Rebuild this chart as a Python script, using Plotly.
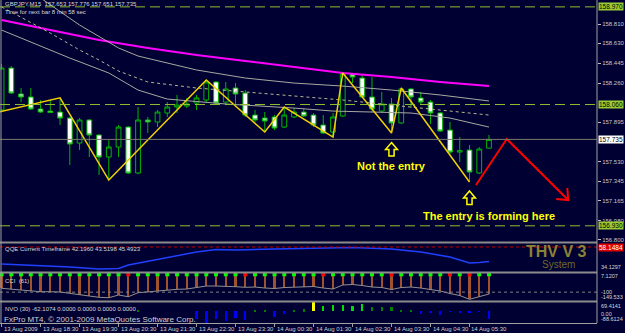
import plotly.graph_objects as go

# ---------------- canvas ----------------
W, H = 625, 333
ML, MR, MT, MB = 0, 23, 0, 10
PW, PH = W - ML - MR, H - MT - MB
BG = '#000033'
FONT = 'Liberation Sans'

def fx(px):
    return (px - ML) / PW

def fy(py):
    return 1 - (py - MT) / PH

# ---------------- data ----------------
bars = list(range(51))
opens = [158.009, 158.400, 158.158, 158.130, 158.018, 157.999, 157.990, 157.934, 157.701, 157.916,
         157.776, 157.571, 157.664, 157.850, 157.422, 157.916, 157.897, 157.981, 158.037, 158.046,
         158.074, 158.102, 158.270, 158.083, 158.214, 158.167, 157.962, 157.934, 157.944, 157.850,
         157.944, 157.990, 157.962, 157.869, 157.804, 157.953, 158.344, 158.307, 158.130, 157.999,
         158.065, 157.888, 158.205, 158.121, 158.083, 157.981, 157.822, 157.617, 157.636, 157.422,
         157.653]
highs = [158.438, 158.419, 158.214, 158.214, 158.102, 158.102, 158.123, 157.944, 157.934, 157.925,
         157.785, 157.729, 157.869, 157.860, 158.037, 157.944, 158.009, 158.083, 158.149, 158.121,
         158.149, 158.288, 158.279, 158.270, 158.260, 158.195, 158.009, 157.990, 157.962, 158.037,
         158.027, 158.018, 157.981, 157.962, 157.981, 158.354, 158.354, 158.335, 158.316, 158.177,
         158.121, 158.214, 158.214, 158.177, 158.102, 157.990, 157.897, 157.757, 157.683, 157.664,
         157.776]
lows = [157.990, 158.158, 158.083, 158.009, 157.981, 157.981, 157.869, 157.496, 157.636, 157.571,
        157.403, 157.356, 157.571, 157.412, 157.412, 157.794, 157.850, 157.944, 157.981, 158.027,
        158.009, 158.074, 158.065, 158.055, 158.055, 157.944, 157.897, 157.804, 157.822, 157.841,
        157.934, 157.944, 157.850, 157.785, 157.757, 157.944, 158.260, 158.121, 157.990, 157.990,
        157.794, 157.878, 158.027, 158.055, 157.878, 157.804, 157.599, 157.524, 157.338, 157.412,
        157.651]
closes = [158.400, 158.167, 158.130, 158.018, 157.990, 157.985, 157.934, 157.692, 157.916, 157.776,
          157.571, 157.664, 157.850, 157.422, 157.916, 157.897, 157.990, 158.037, 158.055, 158.065,
          158.121, 158.270, 158.074, 158.205, 158.158, 157.962, 157.916, 157.906, 157.841, 157.962,
          157.990, 157.953, 157.869, 157.794, 157.944, 158.349, 158.316, 158.130, 158.018, 158.065,
          157.888, 158.205, 158.130, 158.083, 157.981, 157.813, 157.617, 157.631, 157.431, 157.645,
          157.735]

# moving-average style envelope lines (bar index, price)
ma_mag_x = [0, 5, 10, 15, 20, 25, 30, 35, 40, 45, 50]
ma_mag_y = [158.848, 158.754, 158.661, 158.587, 158.521, 158.466, 158.410, 158.354, 158.316, 158.270, 158.232]
ma_up_x = [2, 4, 8, 12, 14, 20, 25, 30, 35, 40, 45, 50]
ma_up_y = [159.220, 159.053, 158.801, 158.587, 158.512, 158.382, 158.307, 158.260, 158.232, 158.195, 158.149, 158.093]
ma_dot_x = [0, 1, 5, 8, 10, 12, 15, 20, 25, 30, 35, 40, 45, 50]
ma_dot_y = [158.969, 158.922, 158.726, 158.568, 158.475, 158.372, 158.270, 158.214, 158.177, 158.139, 158.102, 158.055, 158.009, 157.962]
ma_lo_x = [0, 5, 7, 11, 14, 17, 23, 30, 34, 42, 46, 50]
ma_lo_y = [158.754, 158.568, 158.493, 158.354, 158.195, 158.111, 158.065, 158.027, 157.999, 157.981, 157.934, 157.850]

# zigzag vertices
zz_x = [-2, 6, 11, 21, 27, 29, 34, 35, 40, 41, 48]
zz_y = [157.955, 158.123, 157.356, 158.288, 157.804, 158.037, 157.757, 158.354, 157.794, 158.214, 157.338]

# hand drawn projection (red)
proj_x = [48.67, 51.82, 58.13]
proj_y = [157.310, 157.739, 157.170]
proj_head_x = [56.9, 58.13, 58.03]
proj_head_y = [157.179, 157.170, 157.282]

# horizontal lines
hlines = [158.970, 158.060, 156.930]
bid = 157.735

price_ticks = [158.810, 158.630, 158.445, 158.260, 157.895, 157.530, 157.345, 157.165, 156.980, 156.800]

# QQE
qqe_x = [0, 3, 7, 10, 12, 13, 17, 20, 22, 24, 28, 32, 36, 40, 43, 46, 48, 49, 50]
qqe_y = [39.59, 38.49, 36.31, 34.13, 34.67, 38.49, 46.14, 52.69, 55.42, 54.87, 55.97, 57.06, 57.60,
         55.97, 52.69, 47.23, 40.68, 41.20, 42.196]
qqe_level = 58.1484

# CCI(61)
cci = [-78.6, -84.2, -88.1, -93.7, -97.6, -97.6, -99.3, -106.6, -116.1, -121.7,
       -129.0, -131.2, -116.1, -125.6, -103.2, -97.6, -92.0, -88.1, -84.2, -82.5,
       -73.0, -65.7, -65.7, -65.7, -69.6, -73.0, -71.3, -76.9, -79.7, -74.1,
       -71.3, -71.3, -68.5, -76.9, -82.5, -60.1, -57.3, -62.9, -71.3, -74.1,
       -85.3, -74.1, -71.3, -76.9, -85.3, -93.7, -107.7, -118.9, -140.0, -127.3,
       -110.5]
cci_red = [13, 25, 33, 40, 46, 48]

# NVO(30)
nvo = [0, 0, 0, 0, 0, 0, 0, 0, 0, 0,
       0, 0, 0, 0, 5, 0, 0, 0, 0, 0,
       -55, -88.6, -60, -70, -50, -65, 3, 3, -47, -22,
       2, 15, 69.4, 40, 47, 47, 40, 52, 30, 30,
       30, 4, 3, -22, -17, -27, -4, -17, -17, -3,
       -62.1]

tick_bars = [0, 4, 8, 12, 16, 20, 24, 28, 32, 36, 40, 44, 48]
tick_text = ['13 Aug 2009', '13 Aug 18:30', '13 Aug 19:30', '13 Aug 20:30', '13 Aug 21:30',
             '13 Aug 22:30', '13 Aug 23:30', '14 Aug 00:30', '14 Aug 01:30', '14 Aug 02:30',
             '14 Aug 03:30', '14 Aug 04:30', '14 Aug 05:30']

# ---------------- figure ----------------
fig = go.Figure()
CL = '#00B400'

fig.add_trace(go.Candlestick(
    x=bars, open=opens, high=highs, low=lows, close=closes,
    increasing=dict(line=dict(color=CL, width=1), fillcolor=BG),
    decreasing=dict(line=dict(color=CL, width=1), fillcolor='#FFFFFF'),
    whiskerwidth=0, xaxis='x', yaxis='y', hoverinfo='skip', showlegend=False))

def line(x, y, color, width=1, dash='solid', yaxis='y'):
    fig.add_trace(go.Scatter(x=x, y=y, mode='lines', xaxis='x', yaxis=yaxis,
                             line=dict(color=color, width=width, dash=dash),
                             hoverinfo='skip', showlegend=False))

line(ma_mag_x, ma_mag_y, '#FF00FF', 2)
line(ma_up_x, ma_up_y, '#A8A8A0', 1)
line(ma_dot_x, ma_dot_y, '#B8B890', 1, 'dot')
line(ma_lo_x, ma_lo_y, '#A8A8A0', 1)
line(zz_x, zz_y, '#F0D000', 1.5)
line(proj_x, proj_y, '#FF0000', 2)
line(proj_head_x, proj_head_y, '#FF0000', 2)

# QQE
line(qqe_x, qqe_y, '#2040FF', 1.5, yaxis='y2')

# CCI
fig.add_trace(go.Bar(x=bars, y=cci, xaxis='x', yaxis='y3', width=0.22,
                     marker=dict(color='#A0522D', line=dict(width=0)),
                     hoverinfo='skip', showlegend=False))
line(bars, cci, '#909090', 1, yaxis='y3')
fig.add_trace(go.Scatter(x=bars, y=[0] * len(bars), mode='markers', xaxis='x', yaxis='y3',
                         marker=dict(symbol='square', size=4,
                                     color=['#FF0000' if i in cci_red else '#00FF00' for i in bars]),
                         hoverinfo='skip', showlegend=False))

# NVO
def nvo_col(v):
    if v >= 60:
        return '#FFFF00'
    if v >= 35:
        return '#00E000'
    if v > 0:
        return '#008000'
    return '#0000FF'

fig.add_trace(go.Bar(x=bars, y=nvo, xaxis='x', yaxis='y4', width=0.25,
                     marker=dict(color=[nvo_col(v) for v in nvo], line=dict(width=0)),
                     hoverinfo='skip', showlegend=False))

# ---------------- shapes ----------------
shapes = []
for h in hlines:
    shapes.append(dict(type='line', xref='paper', yref='y', x0=0, x1=1, y0=h, y1=h,
                       line=dict(color='#8FBF2F', width=1, dash='10px,5px')))
shapes.append(dict(type='line', xref='paper', yref='y', x0=0, x1=1, y0=bid, y1=bid,
                   line=dict(color='#7A7A6A', width=1)))
shapes.append(dict(type='line', xref='paper', yref='y2', x0=0, x1=1, y0=qqe_level, y1=qqe_level,
                   line=dict(color='#C00000', width=1, dash='dot')))
shapes.append(dict(type='line', xref='paper', yref='y3', x0=0, x1=1, y0=-100, y1=-100,
                   line=dict(color='#808080', width=1, dash='3px,3px')))
for sy in [242.5, 272.5, 301.5]:
    shapes.append(dict(type='line', xref='paper', yref='paper', x0=0, x1=1, y0=fy(sy), y1=fy(sy),
                       line=dict(color='#8C8C8C', width=2)))
shapes.append(dict(type='line', xref='paper', yref='paper', x0=1, x1=1, y0=0, y1=1,
                   line=dict(color='#A0A0A0', width=1)))
shapes.append(dict(type='line', xref='paper', yref='paper', x0=fx(1), x1=fx(1), y0=0, y1=1,
                   line=dict(color='#A0A0A0', width=1)))

# hollow up arrows under chosen bars
PX_PER_PRICE = 107.3
PX_PER_BAR = 9.83

def up_arrow(b, gap_px):
    cx = b
    top = lows[b] - gap_px / PX_PER_PRICE
    hb = top - 7 / PX_PER_PRICE
    bot = top - 13.5 / PX_PER_PRICE
    hw, sw = 6 / PX_PER_BAR, 2.6 / PX_PER_BAR
    pts = [(cx, top), (cx + hw, hb), (cx + sw, hb), (cx + sw, bot), (cx - sw, bot),
           (cx - sw, hb), (cx - hw, hb)]
    path = 'M ' + ' L '.join(f'{x},{y}' for x, y in pts) + ' Z'
    return dict(type='path', xref='x', yref='y', path=path,
                line=dict(color='#FFFF00', width=1.5), fillcolor='rgba(0,0,0,0)')

shapes.append(up_arrow(40, 9.5))
shapes.append(up_arrow(48, 9))

# ---------------- annotations ----------------
ann = []
def text(x, y, s, size=6, color='#D8D8D8', xanchor='left', xref='paper', yref='paper',
         bg=None, bold=False, **kw):
    d = dict(x=x, y=y, xref=xref, yref=yref, text=f'<b>{s}</b>' if bold else s,
             showarrow=False, xanchor=xanchor, yanchor='middle',
             font=dict(family=FONT, size=size, color=color), borderpad=0)
    if bg:
        d['bgcolor'] = bg
    d.update(kw)
    ann.append(d)

text(fx(4), fy(4), 'GBPJPY,M15  157.653 157.776 157.651 157.735')
text(fx(4), fy(12), 'Time for next bar 8 min 58 sec')
text(fx(4), fy(249), 'QQE Current Timeframe 42.1960 43.5198 45.4923')
text(fx(4), fy(281), 'CCI  (61)')
text(fx(4), fy(309), 'NVO (30) -62.1074 0.0000 0.0000 0.0000 0.0000')
text(fx(3), fy(319.5), 'FxPro MT4, © 2001-2009 MetaQuotes Software Corp.', size=8, color='#D0D0D0')

text(fx(561), fy(251), 'THV V 3', size=16, color='#8B8236', xanchor='center', bold=True)
text(fx(563), fy(264), 'System', size=10, color='#6E6A2C', xanchor='center')

# yellow notes
text(40, lows[40] - 33 / PX_PER_PRICE, 'Not the entry', size=11, color='#FFFF00',
     xanchor='center', xref='x', yref='y', bold=True)
text(50, lows[48] - 34 / PX_PER_PRICE, 'The entry is forming here', size=11, color='#FFFF00',
     xanchor='center', xref='x', yref='y', bold=True)

# right-axis boxed labels
for h in hlines:
    text(1, h, f'{h:.3f}', size=6.5, color='#000000', bg='#9ACD32', yref='y', xshift=1)
text(1, bid, f'{bid:.3f}', size=6.5, color='#000000', bg='#FFFFFF', yref='y', xshift=1)
text(1, qqe_level, f'{qqe_level:.4f}', size=6.5, color='#FFFFFF', bg='#E00000', yref='y2', xshift=1)

# sub-panel scale labels
text(1, 34.1297, '34.1297', size=5.5, yref='y2', xshift=3, yshift=2)
text(1, 7.1207, '7.1207', size=5.5, yref='y3', xshift=3, yshift=-2.5)
text(1, -100, '-100', size=5.5, yref='y3', xshift=3)
text(1, -149.533, '-149.533', size=5.5, yref='y3', xshift=3, yshift=4)
text(1, 69.4141, '69.4141', size=5.5, yref='y4', xshift=3, yshift=-3.5)
text(1, 0, '0.00', size=5.5, yref='y4', xshift=3, yshift=-2.5)
text(1, -88.6124, '-88.6124', size=5.5, yref='y4', xshift=3, yshift=4)

# time labels
for b, s in zip(tick_bars, tick_text):
    text(b, fy(329), s, size=6, color='#D0D0D0', xref='x', xshift=1)

AX = dict(showgrid=False, zeroline=False, fixedrange=True)
fig.update_layout(
    width=W, height=H, margin=dict(l=ML, r=MR, t=MT, b=MB),
    paper_bgcolor=BG, plot_bgcolor=BG, showlegend=False, bargap=0,
    font=dict(family=FONT, size=6, color='#D0D0D0'),
    xaxis=dict(**AX, domain=[0, 1], range=[-0.16, 61.08], anchor='y4',
               tickvals=tick_bars, showticklabels=False, ticks='outside', ticklen=3,
               tickcolor='#A0A0A0', showline=True, linecolor='#A0A0A0', linewidth=1,
               rangeslider=dict(visible=False)),
    yaxis=dict(**AX, domain=[fy(242), 1], range=[156.779, 159.034], side='right', anchor='x',
               tickvals=price_ticks, ticktext=[f'{t:.3f}' for t in price_ticks],
               ticks='outside', ticklen=3, tickcolor='#C0C0C0',
               tickfont=dict(family=FONT, size=6, color='#C8C8C8')),
    yaxis2=dict(**AX, domain=[fy(272), fy(243)], range=[30.85, 62.52], side='right', anchor='x',
                showticklabels=False),
    yaxis3=dict(**AX, domain=[fy(301), fy(273)], range=[-149.533, 7.1207], side='right', anchor='x',
                showticklabels=False),
    yaxis4=dict(**AX, domain=[0, fy(302)], range=[-88.6124, 69.4141], side='right', anchor='x',
                showticklabels=False),
    shapes=shapes, annotations=ann,
)

fig.write_html('out.html')
